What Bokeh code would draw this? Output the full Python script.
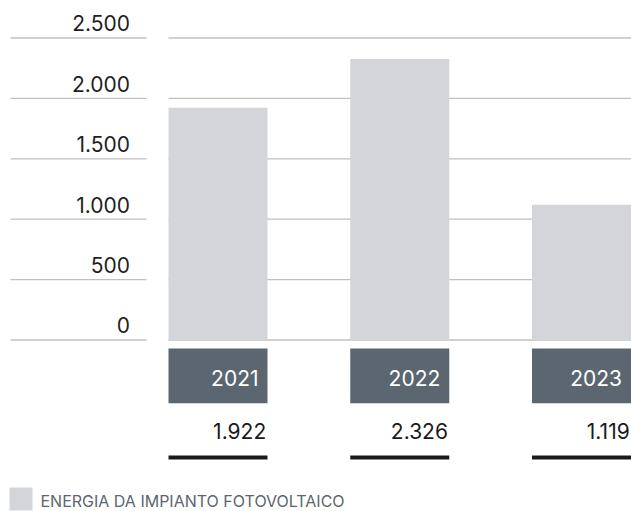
from bokeh.plotting import figure
from bokeh.models import Range1d
from bokeh.core.properties import value
from bokeh.embed import file_html
from bokeh.resources import INLINE

# ---- data ----
years = ["2021", "2022", "2023"]
energy = [1922, 2326, 1119]
value_labels = ["1.922", "2.326", "1.119"]
tick_values = [0, 500, 1000, 1500, 2000, 2500]
tick_labels = ["0", "500", "1.000", "1.500", "2.000", "2.500"]
legend_label = "ENERGIA DA IMPIANTO FOTOVOLTAICO"

# ---- layout (pixels in figure space) ----
W, H = 631, 511
X0 = 217.5          # centre of first bar
STEP = 181.75       # distance between bar centres
BAR_W = 99
Y0 = 339.5          # pixel row of value 0
PPU = 302.0 / 2500  # pixels per unit

FONT = value("Inter")

def dx(px):
    return (px - X0) / STEP

def dy(py):
    return (Y0 - py) / PPU

idx = list(range(len(years)))
bw = BAR_W / STEP

p = figure(width=W, height=H, output_backend="svg", toolbar_location=None,
           x_range=Range1d(dx(0), dx(W)), y_range=Range1d(dy(H), dy(0)),
           x_axis_type=None, y_axis_type=None, min_border=0)
p.outline_line_color = None
p.grid.visible = False
p.background_fill_color = "white"
p.border_fill_color = "white"

grid_color = "#bfc0c4"
n = len(tick_values)
# left gridline segments (under the labels)
p.segment(x0=[dx(10)] * n, x1=[dx(146)] * n, y0=tick_values, y1=tick_values,
          line_color=grid_color, line_width=1.3)
# plot-area gridlines
p.segment(x0=[dx(168)] * n, x1=[dx(W)] * n, y0=tick_values, y1=tick_values,
          line_color=grid_color, line_width=1.3)

# bars
p.vbar(x=idx, top=energy, bottom=0, width=bw, fill_color="#d4d5d9", line_color=None)

# tick labels (centred ~14.7px above each gridline)
p.text(x=[dx(129.5)] * n, y=[t + 14.7 / PPU for t in tick_values], text=tick_labels,
       text_align="right", text_baseline="middle", text_font=FONT,
       text_font_size="21px", text_color="#1f1f1f")

# year boxes
p.vbar(x=idx, top=dy(348), bottom=dy(402.7), width=bw, fill_color="#5b6670", line_color=None)
p.text(x=[i + (BAR_W / 2 - 9) / STEP for i in idx], y=[dy(377)] * len(idx), text=years,
       text_align="right", text_baseline="middle", text_font=FONT,
       text_font_size="21px", text_color="white")

# values
p.text(x=[i + (BAR_W / 2 - 1.3) / STEP for i in idx], y=[dy(430)] * len(idx), text=value_labels,
       text_align="right", text_baseline="middle", text_font=FONT,
       text_font_size="21px", text_color="#1a1a1a")

# underline
p.vbar(x=idx, top=dy(455), bottom=dy(459), width=bw, fill_color="#1a1a1a", line_color=None)

# legend
p.quad(left=[dx(9)], right=[dx(32)], top=[dy(487)], bottom=[dy(510)],
       fill_color="#d4d5d9", line_color=None)
p.text(x=[dx(40)], y=[dy(500.5)], text=[legend_label], text_align="left",
       text_baseline="middle", text_font=FONT, text_font_size="16px",
       text_color="#5b6670")

open("out.html", "w").write(file_html(p, INLINE))
